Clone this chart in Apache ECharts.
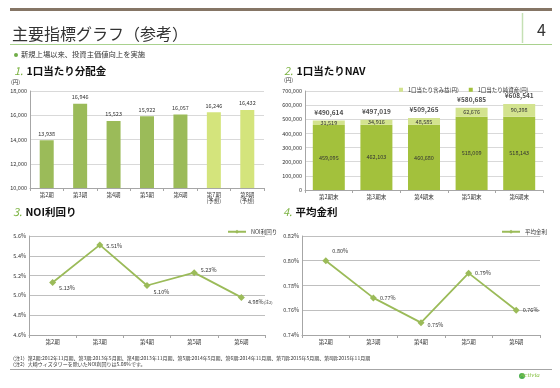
<!DOCTYPE html>
<html><head><meta charset="utf-8">
<script src="https://cdn.jsdelivr.net/npm/echarts@6/dist/echarts.min.js"></script>
<style>html,body{margin:0;padding:0;background:#fff}#c{width:560px;height:388px}</style>
</head><body><div id="c"></div>
<script>
const distCats = ['第2期','第3期','第4期','第5期','第6期','第7期\n(予想)','第8期\n(予想)'];
const distVals = [13938, 16946, 15523, 15922, 16057, 16246, 16432];
const distForecast = [false, false, false, false, false, true, true];

const navCats = ['第2期末','第3期末','第4期末','第5期末','第6期末'];
const navNet = [459095, 462103, 460680, 518009, 518143];
const navGain = [31519, 34916, 48585, 62676, 90398];

const noiCats = ['第2期','第3期','第4期','第5期','第6期'];
const noiVals = [5.13, 5.51, 5.10, 5.23, 4.98];

const rateCats = ['第2期','第3期','第4期','第5期','第6期'];
const rateVals = [0.80, 0.77, 0.75, 0.79, 0.76];

const FONT = '"Noto Sans CJK JP", "Noto Sans", sans-serif';
const TXT = '#333';
const G_DARK = '#9bbb59';
const G_LIGHT = '#d4e47c';
const NAV_DARK = '#a3c13c';
const NAV_LIGHT = '#d3e38f';

const fmt = v => v.toLocaleString('en-US');
const chart = echarts.init(document.getElementById('c'), null, {renderer:'canvas'});

const axisLbl = {fontSize:5.5, color:TXT, fontFamily:FONT};
function yAx(gi, min, max, interval, formatter, gridColor){
  return {gridIndex:gi, type:'value', min, max, interval,
    axisLine:{show:true, lineStyle:{color:'#a6a6a6', width:1}},
    axisTick:{show:false},
    axisLabel:Object.assign({formatter, margin:3}, axisLbl),
    splitLine:{lineStyle:{color:gridColor, width:1}}};
}
function xAx(gi, data){
  return {gridIndex:gi, type:'category', data,
    axisLine:{lineStyle:{color:'#a6a6a6', width:1}},
    axisTick:{show:true, length:3, lineStyle:{color:'#a6a6a6'}},
    axisLabel:Object.assign({margin:4, interval:0, lineHeight:6}, axisLbl)};
}

const totals = navNet.map((v,i)=>v+navGain[i]);

const noiPos = [
  {position:'right', offset:[0,5]},
  {position:'right', offset:[0,1]},
  {position:'right', offset:[0,6]},
  {position:'right', offset:[0,-3]},
  {position:'right', offset:[0,5]}
];
const ratePos = [
  {position:'right', offset:[0,-10]},
  {position:'right', offset:[0,0]},
  {position:'right', offset:[0,2]},
  {position:'right', offset:[0,0]},
  {position:'right', offset:[0,0]}
];

const option = {
  animation:false,
  textStyle:{fontFamily:FONT},
  grid:[
    {left:30, top:91, width:234, height:97},
    {left:305, top:91, width:238, height:99},
    {left:29, top:236, width:236, height:99},
    {left:302, top:236, width:238, height:99}
  ],
  xAxis:[xAx(0, distCats), xAx(1, navCats), xAx(2, noiCats), xAx(3, rateCats)],
  yAxis:[
    yAx(0, 10000, 18000, 2000, v=>fmt(v), '#d9d9d9'),
    yAx(1, 0, 700000, 100000, v=>fmt(v), '#d9d9d9'),
    yAx(2, 4.6, 5.6, 0.2, v=>v.toFixed(1)+'%', '#bfbfbf'),
    yAx(3, 0.74, 0.82, 0.02, v=>v.toFixed(2)+'%', '#bfbfbf')
  ],
  legend:[
    {left:394, top:82, itemWidth:4, itemHeight:4, itemGap:10, icon:'rect',
     textStyle:{fontSize:5.5, color:TXT, fontFamily:FONT},
     data:['1口当たり含み益(円)','1口当たり純資産(円)']},
    {left:222, top:224, itemWidth:18, itemHeight:5, textStyle:{fontSize:5.5, color:TXT, fontFamily:FONT}, data:['NOI利回り']},
    {left:496, top:224, itemWidth:18, itemHeight:5, textStyle:{fontSize:5.5, color:TXT, fontFamily:FONT}, data:['平均金利']}
  ],
  series:[
    {type:'bar', xAxisIndex:0, yAxisIndex:0, barWidth:14,
     data:distVals.map((v,i)=>({value:v, itemStyle:{color: distForecast[i] ? G_LIGHT : G_DARK}})),
     label:{show:true, position:'top', distance:4, fontSize:5.5, color:TXT, formatter:p=>fmt(p.value)}},
    {type:'bar', name:'1口当たり純資産(円)', xAxisIndex:1, yAxisIndex:1, stack:'nav', barWidth:32,
     itemStyle:{color:NAV_DARK}, data:navNet,
     label:{show:true, position:'inside', fontSize:5.5, color:TXT, formatter:p=>fmt(p.value)}},
    {type:'bar', name:'1口当たり含み益(円)', xAxisIndex:1, yAxisIndex:1, stack:'nav', barWidth:32,
     itemStyle:{color:NAV_LIGHT}, data:navGain,
     label:{show:true, position:'inside', fontSize:5.5, color:TXT, formatter:p=>fmt(p.value)}},
    {type:'scatter', xAxisIndex:1, yAxisIndex:1, symbolSize:0, data:totals, silent:true,
     label:{show:true, position:'top', distance:5, fontSize:6.5, fontWeight:'bold', color:'#222', formatter:p=>'¥'+fmt(p.value)}},
    {type:'line', name:'NOI利回り', xAxisIndex:2, yAxisIndex:2, symbol:'diamond', symbolSize:7,
     lineStyle:{color:G_DARK, width:1.8}, itemStyle:{color:G_DARK},
     data:noiVals.map((v,i)=>({value:v, label:noiPos[i]})),
     label:{show:true, distance:3, fontSize:5.5, color:TXT,
       formatter:p=> p.dataIndex===noiVals.length-1 ? p.value.toFixed(2)+'%{s|(注2)}' : p.value.toFixed(2)+'%',
       rich:{s:{fontSize:4, color:TXT}}}},
    {type:'line', name:'平均金利', xAxisIndex:3, yAxisIndex:3, symbol:'diamond', symbolSize:7,
     lineStyle:{color:G_DARK, width:1.8}, itemStyle:{color:G_DARK},
     data:rateVals.map((v,i)=>({value:v, label:ratePos[i]})),
     label:{show:true, distance:3, fontSize:5.5, color:TXT, formatter:p=>p.value.toFixed(2)+'%'}}
  ],
  graphic:[
    {type:'rect', shape:{x:10, y:8, width:542, height:3}, style:{fill:'#857565'}},
    {type:'line', shape:{x1:10, y1:44.5, x2:552, y2:44.5}, style:{stroke:'#a9d18e', lineWidth:1}},
    {type:'line', shape:{x1:522.5, y1:13, x2:522.5, y2:43}, style:{stroke:'#c5e0b4', lineWidth:1.5}},
    {type:'text', left:537, top:22, style:{text:'4', fontSize:16, fill:TXT, fontFamily:FONT}},
    {type:'text', left:12, top:26, style:{text:'主要指標グラフ（参考）', fontSize:16, fill:TXT, fontFamily:FONT}},
    {type:'circle', shape:{cx:16, cy:55, r:2}, style:{fill:'#70ad47'}},
    {type:'text', left:21, top:50.5, style:{text:'新規上場以来、投資主価値向上を実施', fontSize:7.3, fill:TXT, fontFamily:FONT}},
    {type:'text', left:14, top:65, style:{text:'{n|1.} {t|1口当たり分配金}', rich:{n:{fontSize:11, fill:'#7cb342', fontStyle:'italic', fontFamily:FONT}, t:{fontSize:10.5, fill:'#111', fontWeight:'bold', fontFamily:FONT}}}},
    {type:'text', left:284, top:65, style:{text:'{n|2.} {t|1口当たりNAV}', rich:{n:{fontSize:11, fill:'#7cb342', fontStyle:'italic', fontFamily:FONT}, t:{fontSize:10.5, fill:'#111', fontWeight:'bold', fontFamily:FONT}}}},
    {type:'text', left:13, top:206, style:{text:'{n|3.} {t|NOI利回り}', rich:{n:{fontSize:11, fill:'#7cb342', fontStyle:'italic', fontFamily:FONT}, t:{fontSize:10.5, fill:'#111', fontWeight:'bold', fontFamily:FONT}}}},
    {type:'text', left:283, top:206, style:{text:'{n|4.} {t|平均金利}', rich:{n:{fontSize:11, fill:'#7cb342', fontStyle:'italic', fontFamily:FONT}, t:{fontSize:10.5, fill:'#111', fontWeight:'bold', fontFamily:FONT}}}},
    {type:'text', left:11, top:79, style:{text:'(円)', fontSize:5.5, fill:TXT, fontFamily:FONT}},
    {type:'text', left:284, top:77, style:{text:'(円)', fontSize:5.5, fill:TXT, fontFamily:FONT}},
    {type:'text', left:10, top:356, style:{text:'（注1）第2期:2012年11月期、第3期:2013年5月期、第4期:2013年11月期、第5期:2014年5月期、第6期:2014年11月期、第7期:2015年5月期、第8期:2015年11月期', fontSize:5, fill:TXT, fontFamily:FONT}},
    {type:'text', left:10, top:361.5, style:{text:'（注2）大崎ウィズタワーを除いたNOI利回りは5.08%です。', fontSize:5, fill:TXT, fontFamily:FONT}},
    {type:'line', shape:{x1:10, y1:369.5, x2:552, y2:369.5}, style:{stroke:'#a6a6a6', lineWidth:1.2}},
    {type:'circle', shape:{cx:522, cy:376, r:3}, style:{fill:'#4caf50'}},
    {type:'text', left:520, top:372, style:{text:'Activia', fontSize:7, fontStyle:'italic', fill:'#8bc34a', fontFamily:'"Liberation Serif", serif'}}
  ]
};
chart.setOption(option);
</script></body></html>
